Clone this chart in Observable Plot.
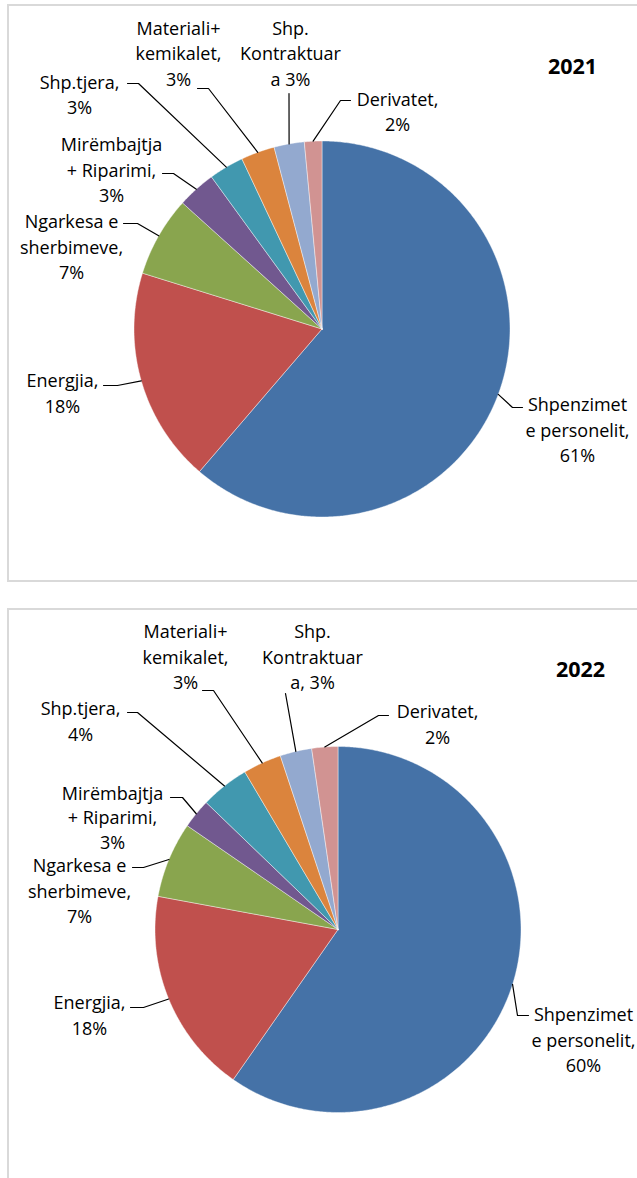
<!DOCTYPE html>
<html><head><meta charset="utf-8">
<script src="https://cdn.jsdelivr.net/npm/d3@7"></script>
<script src="https://cdn.jsdelivr.net/npm/@observablehq/plot@0.6"></script>
<style>
html,body{margin:0;padding:0;background:#fff;width:637px;height:1178px;overflow:hidden;}
#wrap{position:relative;width:637px;height:1178px;}
.chart{position:absolute;left:0;}
.box{position:absolute;border:2px solid #d9d9d9;box-sizing:border-box;pointer-events:none;z-index:2;}
</style></head><body><div id="wrap"></div>
<script>
// ---- data ----
const categories = ["Shpenzimet e personelit", "Energjia", "Ngarkesa e sherbimeve", "Mirëmbajtja + Riparimi", "Shp.tjera", "Materiali+ kemikalet", "Shp. Kontraktuar", "Derivatet"];
const years = ["2021", "2022"];
const values2021 = [61.3, 18.5, 6.9, 3.3, 3.0, 2.9, 2.6, 1.5];
const values2022 = [59.7, 18.2, 6.7, 2.6, 4.3, 3.4, 2.8, 2.3];
const labels2021 = ["Shpenzimet\ne personelit,\n61%", "Energjia,\n18%", "Ngarkesa e\nsherbimeve,\n7%", "Mirëmbajtja\n+ Riparimi,\n3%", "Shp.tjera,\n3%", "Materiali+\nkemikalet,\n3%", "Shp.\nKontraktuar\na 3%", "Derivatet,\n2%"];
const labels2022 = ["Shpenzimet\ne personelit,\n60%", "Energjia,\n18%", "Ngarkesa e\nsherbimeve,\n7%", "Mirëmbajtja\n+ Riparimi,\n3%", "Shp.tjera,\n4%", "Materiali+\nkemikalet,\n3%", "Shp.\nKontraktuar\na, 3%", "Derivatet,\n2%"];
const colors = ["#4572A7", "#C0504D", "#89A54E", "#71588F", "#4198AF", "#DB843D", "#93A9CF", "#D19392"];

// ---- layout (pixels, relative to pie centre) ----
const layout = [
  {
    top: 0, height: 595, cx: 321.5, cy: 328.5, r: 188, title: [250.5, -261.5], lh: [1.42, 1.42, 1.42, 1.42, 1.42, 1.42, 1.42, 1.42],
    labels: [[255.5, 99.5], [-259.5, 63], [-250.5, -83.5], [-210.5, -160.5], [-242.5, -235.5], [-143.5, -277], [-31.5, -277], [75.5, -218.5]],
    elbows: [[[200.5, 78.5], [190.5, 78.5]], [[-218.5, 56.5], [-204.5, 56.5]], [[-198.5, -105.5], [-184.5, -105.5]], [[-159.5, -155.5], [-148.5, -155.5]], [[-194.5, -245.5], [-183.5, -245.5]], [[-124.5, -240.5], [-113.5, -240.5]], [[-33, -235.5]], [[28.5, -228.5], [18.5, -228.5]]]
  },
  {
    top: 595, height: 583, cx: 337.5, cy: 334, r: 183, title: [242.5, -259], lh: [1.42, 1.42, 1.42, 1.36, 1.42, 1.42, 1.42, 1.42],
    labels: [[245.5, 109], [-248.5, 84.5], [-258.5, -40], [-225.5, -113], [-257.5, -209.5], [-152.5, -274], [-25.5, -274], [99.5, -206.5]],
    elbows: [[[190.5, 86], [179.5, 86]], [[-207.5, 78], [-194.5, 78]], [[-205.5, -62], [-194.5, -62]], [[-167.5, -132], [-155.5, -132]], [[-210.5, -217], [-200.5, -217]], [[-135.5, -239], [-124.5, -239]], [[-52.5, -236]], [[50.5, -214], [40.5, -214]]]
  }
];

const W = 637;
const wrap = document.getElementById("wrap");

function drawChart(values, labels, year, L) {
  const data = categories.map((c, i) => ({name: c, value: values[i]}));
  const arcs = d3.pie().sort(null).value(d => d.value).startAngle(0).endAngle(2 * Math.PI)(data);
  const pt = (a, rr) => ({x: rr * Math.sin(a), y: -rr * Math.cos(a)});
  const slices = [];
  arcs.forEach(a => {
    const n = Math.max(2, Math.ceil((a.endAngle - a.startAngle) / (Math.PI / 360)) + 1);
    slices.push({name: a.data.name, x: 0, y: 0});
    for (let k = 0; k < n; k++) {
      const t = a.startAngle + (a.endAngle - a.startAngle) * k / (n - 1);
      slices.push({name: a.data.name, ...pt(t, L.r)});
    }
    slices.push({name: a.data.name, x: 0, y: 0});
  });
  const leaders = [];
  arcs.forEach((a, i) => {
    L.elbows[i].forEach(([x, y]) => leaders.push({id: i, x, y}));
    leaders.push({id: i, ...pt((a.startAngle + a.endAngle) / 2, L.r)});
  });
  const texts = labels.map((t, i) => ({text: t, x: L.labels[i][0], y: L.labels[i][1], lh: L.lh[i]}));
  const groups = d3.groups(texts, d => d.lh);

  const plot = Plot.plot({
    width: W, height: L.height,
    margin: 0,
    x: {domain: [-L.cx, W - L.cx], range: [0, W], axis: null},
    y: {domain: [-L.cy, L.height - L.cy], range: [0, L.height], axis: null},
    color: {domain: categories, range: colors},
    style: {background: "transparent", fontFamily: "'Open Sans', sans-serif", overflow: "visible"},
    marks: [
      Plot.line(slices, {x: "x", y: "y", z: "name", fill: "name", stroke: "white", strokeWidth: 0.6, strokeOpacity: 0.7, curve: "linear"}),
      Plot.line(leaders, {x: "x", y: "y", z: "id", stroke: "#000", strokeWidth: 1.2, curve: "linear"}),
      ...groups.map(([lh, g]) => Plot.text(g, {x: "x", y: "y", text: "text", fontSize: 18, lineHeight: lh, fill: "#000"})),
      Plot.text([year], {x: () => L.title[0], y: () => L.title[1], text: d => d, fontSize: 21.5, fontWeight: "bold", fill: "#000"})
    ]
  });
  plot.classList.add("chart");
  plot.style.top = L.top + "px";
  wrap.appendChild(plot);
}

drawChart(values2021, labels2021, years[0], layout[0]);
drawChart(values2022, labels2022, years[1], layout[1]);

const boxes = [
  {left: 7, top: 4, width: 640, height: 578},
  {left: 7, top: 608, width: 640, height: 600}
];
boxes.forEach(b => {
  const d = document.createElement("div");
  d.className = "box";
  Object.assign(d.style, {left: b.left + "px", top: b.top + "px", width: b.width + "px", height: b.height + "px"});
  wrap.appendChild(d);
});
</script></body></html>
